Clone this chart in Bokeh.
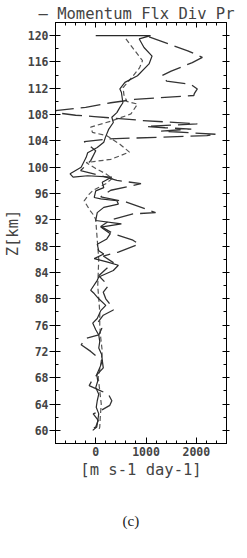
from bokeh.plotting import figure
from bokeh.models import Range1d, LinearAxis, FixedTicker, Title
from bokeh.embed import file_html
from bokeh.resources import INLINE

# ---- data (altitude in km, momentum flux divergence in m s-1 day-1) ----
solid_z = [120.0, 120.0, 119.5, 118.2, 116.9, 115.7, 113.9, 112.9, 111.9, 111.4, 109.8, 109.1,
           108.3, 107.6, 106.8, 105.8, 104.5, 103.8, 103.0, 102.2, 101.5, 100.0, 99.0, 98.5,
           98.7, 98.5, 97.7, 96.9, 96.4, 95.4, 95.2, 94.9, 94.4, 93.9, 93.1, 91.9, 91.4, 90.9,
           89.9, 89.1, 88.3, 87.3, 86.8, 86.1, 85.6, 85.1, 84.3, 83.3, 82.8, 81.3, 80.8, 80.0,
           79.0, 78.2, 77.0, 76.3, 75.3, 74.5, 73.5, 72.5, 71.5, 70.6, 69.5, 68.5, 67.5, 66.5,
           65.5, 64.5, 63.5, 62.5, 61.5, 60.5, 60.0]
solid_v = [0, 1090, 865, 960, 1120, 1060, 830, 580, 480, 510, 540, 480,
           420, 320, 350, 260, 190, 160, 30, -160, -190, -290, -510, -450,
           -160, 320, 130, 160, 0, -30, 100, 420, 450, 160, 30, 0, 510, 100,
           290, 220, 30, 60, 160, -30, 220, 450, 350, 60, 30, -100, -30, 60,
           200, 100, 30, -60, 0, 60, 80, 60, 120, 130, 80, 20, 40, 0,
           60, 30, 10, 60, 40, 20, -60]

short_z = [119.5, 118.0, 116.2, 115.1, 113.5, 112.1, 111.0, 110.0, 109.6, 108.1, 107.0, 106.1,
           105.3, 104.8, 103.5, 102.3, 101.2, 100.7, 99.8, 99.0, 98.3, 97.5, 96.5, 95.9,
           94.9, 93.5, 92.6, 92.0, 90.0, 88.0, 86.0, 84.0, 82.0, 80.0, 78.0, 76.0, 74.0,
           72.0, 70.0, 68.0, 66.0, 64.0, 62.0, 60.5, 60.0]
short_v = [600, 750, 930, 870, 700, 545, 560, 620, 830, 700, 300, -100,
           -65, 220, 480, 670, 300, -190, 0, 200, 330, 200, -50, -130,
           -230, -120, -30, 0, 20, 40, 60, 50, 40, 60, 80, 80, 100,
           130, 100, 50, 80, 110, 90, 80, 60]

long_z = [119.8, 117.7, 116.7, 115.9, 114.6, 113.9, 113.1, 112.6, 111.9, 111.2, 110.9, 110.3,
          109.8, 109.1, 108.6, 108.3, 107.9, 107.7, 107.1, 106.6, 106.2, 106.0, 105.8, 105.5,
          105.0, 104.8, 104.3, 103.9, 102.5, 101.0, 99.5, 98.7, 98.0, 97.5, 96.5, 95.5, 94.7,
          93.1, 92.9, 92.0, 91.0, 89.9, 88.9, 88.3, 87.1, 86.5, 85.5, 84.5, 83.5, 82.0, 81.0,
          80.0, 79.0, 78.3, 77.5, 76.5, 75.5, 74.5, 74.0, 73.0, 72.0, 71.0, 70.6, 69.5, 68.5,
          67.5, 66.8, 66.0, 65.5, 64.5, 63.8, 63.0, 62.5, 61.5, 60.5, 60.0]
long_v = [1060, 1830, 2120, 1920, 1500, 1310, 1410, 1890, 2020, 1960, 1950, 770,
          300, -200, -800, -800, -400, -30, 930, 2020, 1000, 1380, 1900, 1300,
          2400, 2210, 250, -230, 0, -100, -300, 100, 420, 900, 300, 100, 610,
          1190, 740, 300, 100, 350, 740, 860, 450, 150, 350, 200, 60, 250, 150,
          200, 300, 350, 150, 50, 120, 60, -190, -290, -100, 50, 130, 150, 30,
          -80, -130, 100, 250, 320, 280, 100, -50, 50, 0, -150]

x_major = [0, 1000, 2000]
x_minor = list(range(-800, 2601, 200))
z_major = list(range(60, 121, 4))
z_minor = list(range(58, 123, 2))

MONO = "DejaVu Sans Mono"

p = figure(width=247, height=558, output_backend="svg", toolbar_location=None,
           x_range=Range1d(-800, 2600), y_range=Range1d(58, 122),
           min_border_left=50, min_border_right=21, min_border_top=22, min_border_bottom=115)

p.title.text = "\u2013 Momentum Flx Div Pr"
p.title.text_font = MONO
p.title.text_font_size = "15.5px"
p.title.text_font_style = "normal"
p.title.align = "left"
p.title.offset = -17
p.title.standoff = 0

p.grid.visible = False
p.outline_line_color = "black"
p.outline_line_width = 1
p.background_fill_color = "white"
p.border_fill_color = "white"

yt = FixedTicker(ticks=z_major, minor_ticks=z_minor)
xt = FixedTicker(ticks=x_major, minor_ticks=x_minor)

ya = p.yaxis[0]
ya.ticker = yt
ya.axis_label = "Z[km]"
ya.axis_label_text_font = MONO
ya.axis_label_text_font_size = "15.5px"
ya.axis_label_text_font_style = "normal"
ya.axis_label_standoff = 3
ya.major_label_text_font = MONO
ya.major_label_text_font_size = "11.5px"
ya.major_label_text_font_style = "bold"
ya.major_label_standoff = 1
ya.major_tick_out = 6
ya.major_tick_in = 5
ya.minor_tick_out = 0
ya.minor_tick_in = 3

xa = p.xaxis[0]
xa.ticker = xt
xa.axis_label = "[m s-1 day-1]"
xa.axis_label_text_font = MONO
xa.axis_label_text_font_size = "15.5px"
xa.axis_label_text_font_style = "normal"
xa.axis_label_standoff = 2
xa.major_label_text_font = MONO
xa.major_label_text_font_size = "11.5px"
xa.major_label_text_font_style = "bold"
xa.major_label_standoff = 3
xa.major_tick_out = 0
xa.major_tick_in = 6
xa.minor_tick_out = 0
xa.minor_tick_in = 3

top = LinearAxis(ticker=xt, major_label_overrides={v: "" for v in x_major},
                 major_label_text_font_size="1px", major_tick_out=0,
                 major_tick_in=5, minor_tick_out=0, minor_tick_in=3, major_label_standoff=0)
p.add_layout(top, "above")
right = LinearAxis(ticker=yt, major_label_overrides={v: "" for v in z_major},
                   major_label_text_font_size="1px", major_tick_out=3,
                   major_tick_in=4, minor_tick_out=0, minor_tick_in=3, major_label_standoff=0)
p.add_layout(right, "right")

cap = Title(text="(c)", text_font="Liberation Serif", text_font_size="15px",
            text_font_style="normal", text_color="#222222",
            align="left", offset=67, standoff=58)
p.add_layout(cap, "below")

p.line(short_v, short_z, line_color="#555555", line_width=1.2, line_dash="5 3")
p.line(long_v, long_z, line_color="#333333", line_width=1.3, line_dash="20 7")
p.line(solid_v, solid_z, line_color="#2a2a2a", line_width=1.2)

open("out.html", "w").write(file_html(p, INLINE))
